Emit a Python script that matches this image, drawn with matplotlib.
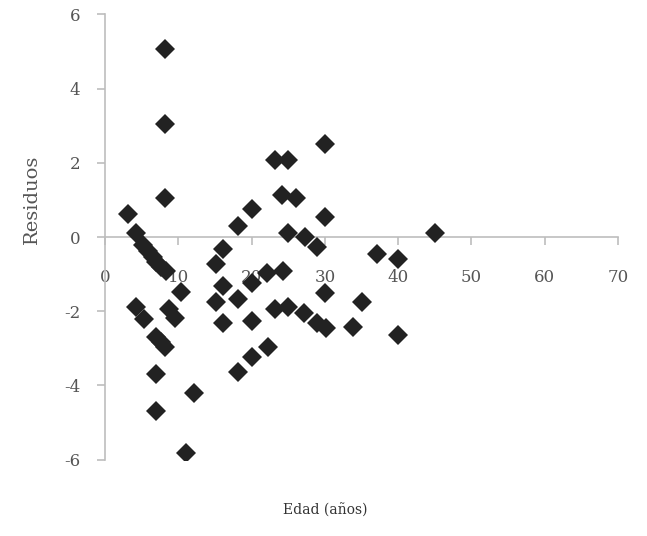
import matplotlib
matplotlib.use("Agg")
import matplotlib.pyplot as plt

edad = [8.2, 8.2, 8.2, 3.2, 4.2, 18.2, 20.0, 23.2, 25.0, 30.0,
        24.1, 26.1, 30.0, 25.0, 27.3, 28.9, 45.0, 16.1, 15.2, 37.1,
        40.0, 22.1, 24.3, 20.0, 16.1, 30.0, 15.2, 18.2, 35.0, 23.2,
        25.0, 27.1, 16.1, 20.0, 28.9, 30.2, 33.9, 40.0, 22.3, 20.0,
        18.2, 5.2, 5.8, 6.5, 7.0, 7.6, 8.3, 10.3, 8.7, 9.5,
        4.2, 5.3, 7.0, 7.6, 8.2, 7.0, 12.1, 7.0, 11.0]
residuos = [5.07, 3.04, 1.06, 0.62, 0.12, 0.30, 0.75, 2.07, 2.07, 2.52,
            1.13, 1.06, 0.55, 0.10, -0.01, -0.28, 0.10, -0.32, -0.73, -0.47,
            -0.60, -0.98, -0.92, -1.25, -1.31, -1.50, -1.76, -1.68, -1.74, -1.94,
            -1.88, -2.06, -2.31, -2.26, -2.31, -2.46, -2.43, -2.64, -2.97, -3.23,
            -3.63, -0.22, -0.38, -0.55, -0.68, -0.80, -0.92, -1.47, -1.95, -2.19,
            -1.88, -2.21, -2.69, -2.82, -2.96, -3.70, -4.21, -4.68, -5.81]

xticks = [0, 10, 20, 30, 40, 50, 60, 70]
yticks = [-6, -4, -2, 0, 2, 4, 6]

plt.rcParams['font.family'] = ['DejaVu Serif']
plt.rcParams['axes.unicode_minus'] = False

fig = plt.figure(figsize=(6.47, 5.36), dpi=100)
ax = fig.add_axes([0.1623, 0.1425, 0.793, 0.8306])

ax.plot(edad, residuos, linestyle='none', marker='D', markersize=10,
        color='#222222', markeredgewidth=0, zorder=3)

ax.set_xlim(0, 70)
ax.set_ylim(-6, 6)
ax.set_xticks(xticks)
ax.set_yticks(yticks)

grey = '#bdbdbd'
ax.spines['left'].set_position(('data', 0))
ax.spines['bottom'].set_position(('data', 0))
ax.spines['right'].set_visible(False)
ax.spines['top'].set_visible(False)
for s in ('left', 'bottom'):
    ax.spines[s].set_color(grey)
    ax.spines[s].set_linewidth(1.2)

ax.tick_params(axis='x', direction='out', length=6, width=1.2, color=grey,
               labelsize=12, labelcolor='#555555', pad=17)
ax.tick_params(axis='y', direction='out', length=6, width=1.2, color=grey,
               labelsize=12, labelcolor='#555555', pad=12)

fig.text(32 / 647, 1 - 199 / 536, 'Residuos', rotation=90, ha='center',
         va='center', fontsize=14, color='#555555')
fig.text(325 / 647, 1 - 511 / 536, 'Edad (años)', ha='center', va='center',
         fontsize=10, color='#333333')

fig.savefig('out.png', dpi=100)
